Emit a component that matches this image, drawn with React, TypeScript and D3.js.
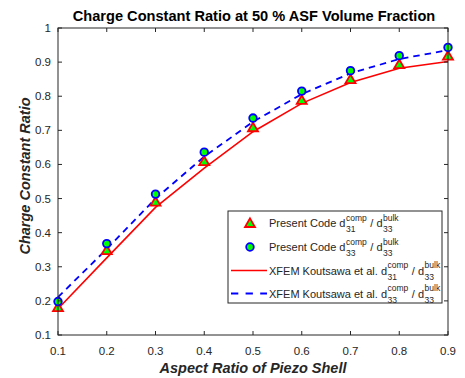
import React from "react";
import * as d3 from "d3";

const aspectRatio = [0.1, 0.2, 0.3, 0.4, 0.5, 0.6, 0.7, 0.8, 0.9];
const presentD31 = [0.182, 0.349, 0.491, 0.61, 0.709, 0.789, 0.85, 0.894, 0.919];
const presentD33 = [0.198, 0.368, 0.513, 0.636, 0.736, 0.815, 0.875, 0.919, 0.943];
const xfemD31 = [0.177, 0.326, 0.474, 0.589, 0.696, 0.779, 0.84, 0.882, 0.902];
const xfemD33 = [0.211, 0.352, 0.5, 0.623, 0.725, 0.806, 0.867, 0.909, 0.935];

const xTicks = [0.1, 0.2, 0.3, 0.4, 0.5, 0.6, 0.7, 0.8, 0.9];
const yTicks = [0.1, 0.2, 0.3, 0.4, 0.5, 0.6, 0.7, 0.8, 0.9, 1];

const titleText = "Charge Constant Ratio at 50 % ASF Volume Fraction";
const xLabel = "Aspect Ratio of Piezo Shell";
const yLabel = "Charge Constant Ratio";

const legendEntries = [
  { prefix: "Present Code d", sub1: "31", type: "tri" },
  { prefix: "Present Code d", sub1: "33", type: "circ" },
  { prefix: "XFEM Koutsawa et al. d", sub1: "31", type: "solid" },
  { prefix: "XFEM Koutsawa et al. d", sub1: "33", type: "dash" },
];

const FONT = '"Liberation Sans", Arial, Helvetica, sans-serif';
const AX = "#262626";

let ctx: CanvasRenderingContext2D | null = null;
function measure(txt: string, size: number, weight = "normal") {
  if (!ctx) {
    const c = document.createElement("canvas");
    ctx = c.getContext("2d");
  }
  if (!ctx) return txt.length * size * 0.55;
  ctx.font = `${weight} ${size}px ${FONT}`;
  return ctx.measureText(txt).width;
}

const L = 58, R = 448, T = 28, B = 335;

function triPath(cx: number, cy: number) {
  return `M${cx},${cy - 4.6}L${cx + 5},${cy + 4}L${cx - 5},${cy + 4}Z`;
}

export default function App() {
  const x = d3.scaleLinear().domain([0.1, 0.9]).range([L, R]);
  const y = d3.scaleLinear().domain([0.1, 1]).range([B, T]);

  const line = d3
    .line<number>()
    .x((_, i) => x(aspectRatio[i]))
    .y((d) => y(d));

  const legX = 228, legY = 211, legW = 214, legH = 92;
  const rowY = [223, 247, 270.5, 293.5];
  const mainSize = 11, scriptSize = 8.5;

  const renderLegendText = (prefix: string, sub1: string, ry: number, key: number) => {
    const tx = 269;
    const base = ry + 4;
    const w1 = measure(prefix, mainSize);
    const x1 = tx + w1 + 0.5;
    const wScript1 = Math.max(measure("comp", scriptSize), measure(sub1, scriptSize));
    const mid = " / d";
    const x2 = x1 + wScript1 + 0.5;
    const wMid = measure(mid, mainSize);
    const x3 = x2 + wMid + 0.5;
    return (
      <g key={key} fontFamily={FONT} fill={AX}>
        <text x={tx} y={base} fontSize={mainSize}>{prefix}</text>
        <text x={x1} y={base - 6.5} fontSize={scriptSize}>comp</text>
        <text x={x1} y={base + 5} fontSize={scriptSize}>{sub1}</text>
        <text x={x2} y={base} fontSize={mainSize} xmlSpace="preserve">{mid}</text>
        <text x={x3} y={base - 6.5} fontSize={scriptSize}>bulk</text>
        <text x={x3} y={base + 5} fontSize={scriptSize}>33</text>
      </g>
    );
  };

  return (
    <svg
      width={465}
      height={378}
      style={{ position: "absolute", left: 0, top: 0, background: "#fff" }}
    >
      <rect x={0} y={0} width={465} height={378} fill="#fff" />
      {/* title */}
      <text
        x={(L + R) / 2 + 1}
        y={21}
        textAnchor="middle"
        fontFamily={FONT}
        fontWeight="bold"
        fontSize={14.6}
        fill="#000"
      >
        {titleText}
      </text>

      {/* lines */}
      <path d={line(xfemD31) || ""} fill="none" stroke="#ff0000" strokeWidth={1.6} />
      <path
        d={line(xfemD33) || ""}
        fill="none"
        stroke="#0000ff"
        strokeWidth={1.8}
        strokeDasharray="6.5,5"
      />

      {/* markers */}
      {presentD31.map((v, i) => (
        <path
          key={"t" + i}
          d={triPath(x(aspectRatio[i]), y(v))}
          fill="#00ff00"
          stroke="#ff0000"
          strokeWidth={1.8}
          strokeLinejoin="miter"
        />
      ))}
      {presentD33.map((v, i) => (
        <circle
          key={"c" + i}
          cx={x(aspectRatio[i])}
          cy={y(v)}
          r={3.8}
          fill="#00ff00"
          stroke="#0000ff"
          strokeWidth={1.8}
        />
      ))}

      {/* axes box */}
      <rect x={L} y={T} width={R - L} height={B - T} fill="none" stroke={AX} strokeWidth={1} />
      {xTicks.map((t) => (
        <g key={"xt" + t}>
          <line x1={x(t)} x2={x(t)} y1={B} y2={B - 4} stroke={AX} />
          <line x1={x(t)} x2={x(t)} y1={T} y2={T + 4} stroke={AX} />
          <text
            x={x(t)}
            y={355}
            textAnchor="middle"
            fontFamily={FONT}
            fontSize={11.5}
            fill={AX}
          >
            {t}
          </text>
        </g>
      ))}
      {yTicks.map((t) => (
        <g key={"yt" + t}>
          <line x1={L} x2={L + 4} y1={y(t)} y2={y(t)} stroke={AX} />
          <line x1={R} x2={R - 4} y1={y(t)} y2={y(t)} stroke={AX} />
          <text
            x={51}
            y={y(t) + 4}
            textAnchor="end"
            fontFamily={FONT}
            fontSize={11.5}
            fill={AX}
          >
            {t}
          </text>
        </g>
      ))}

      {/* axis labels */}
      <text
        x={(L + R) / 2}
        y={373}
        textAnchor="middle"
        fontFamily={FONT}
        fontWeight="bold"
        fontStyle="italic"
        fontSize={14.5}
        fill={AX}
      >
        {xLabel}
      </text>
      <text
        transform={`translate(30,176) rotate(-90)`}
        textAnchor="middle"
        fontFamily={FONT}
        fontWeight="bold"
        fontStyle="italic"
        fontSize={14.5}
        fill={AX}
      >
        {yLabel}
      </text>

      {/* legend */}
      <rect x={legX} y={legY} width={legW} height={legH} fill="#fff" stroke={AX} strokeWidth={1} />
      {legendEntries.map((e, i) => {
        const ry = rowY[i];
        let token: React.ReactNode = null;
        if (e.type === "tri") {
          token = (
            <path d={triPath(250, ry)} fill="#00ff00" stroke="#ff0000" strokeWidth={1.8} />
          );
        } else if (e.type === "circ") {
          token = (
            <circle cx={250} cy={ry} r={3.8} fill="#00ff00" stroke="#0000ff" strokeWidth={1.8} />
          );
        } else if (e.type === "solid") {
          token = <line x1={231} x2={267} y1={ry} y2={ry} stroke="#ff0000" strokeWidth={1.6} />;
        } else {
          token = (
            <line
              x1={231}
              x2={267}
              y1={ry}
              y2={ry}
              stroke="#0000ff"
              strokeWidth={1.8}
              strokeDasharray="7.3,7.3"
            />
          );
        }
        return (
          <g key={"lg" + i}>
            {token}
            {renderLegendText(e.prefix, e.sub1, ry, i)}
          </g>
        );
      })}
    </svg>
  );
}
